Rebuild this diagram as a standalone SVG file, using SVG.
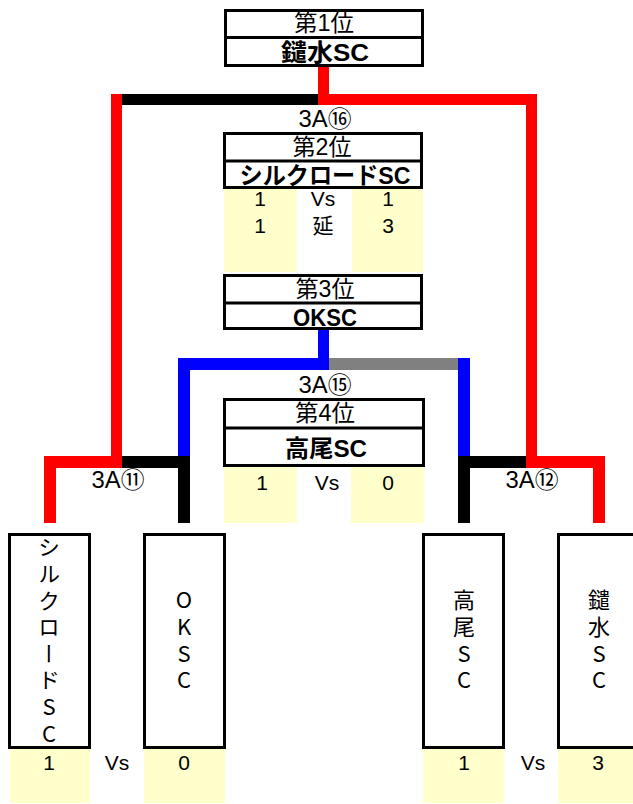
<svg xmlns="http://www.w3.org/2000/svg" width="633" height="804" viewBox="0 0 633 804">
<style>
text{font-family:"Liberation Sans","Noto Sans CJK JP",sans-serif;fill:#000;text-anchor:middle;dominant-baseline:central}
.h{font-size:23px}
.b{font-size:24px;font-weight:bold}
.s{font-size:21px}
.lab{font-size:23px}
.box{fill:#fff;stroke:#000;stroke-width:3}
.div{stroke:#000;stroke-width:3}
.y{fill:#FFFFCC}
.vt{font-family:"Noto Sans CJK JP",sans-serif;font-size:22px;writing-mode:vertical-rl;text-orientation:upright;text-anchor:start;letter-spacing:4.6px}
.r{fill:#FF0000}.k{fill:#000}.bl{fill:#0000FF}.g{fill:#808080}
</style>
<rect width="633" height="804" fill="#fff"/>
<g id="connectors">
<rect class="r" x="318" y="67" width="11" height="38"/>
<rect class="k" x="122" y="94" width="196" height="11"/>
<rect class="r" x="318" y="94" width="219" height="11"/>
<rect class="r" x="111" y="94" width="11" height="374"/>
<rect class="r" x="526" y="94" width="11" height="374"/>
<rect class="r" x="44" y="456" width="78" height="12"/>
<rect class="r" x="44" y="456" width="12" height="67"/>
<rect class="k" x="122" y="456" width="68" height="12"/>
<rect class="k" x="178" y="456" width="12" height="67"/>
<rect class="bl" x="178" y="358" width="12" height="98"/>
<rect class="bl" x="178" y="358" width="151" height="12"/>
<rect class="bl" x="318" y="330" width="11" height="40"/>
<rect class="g" x="329" y="358" width="129" height="12"/>
<rect class="bl" x="458" y="358" width="12" height="98"/>
<rect class="k" x="458" y="456" width="68" height="12"/>
<rect class="k" x="458" y="456" width="12" height="67"/>
<rect class="r" x="526" y="456" width="79" height="12"/>
<rect class="r" x="593" y="456" width="12" height="67"/>
</g>
<g id="labels">
<text class="lab" x="325" y="119" textLength="53" lengthAdjust="spacingAndGlyphs">3A⑯</text>
<text class="lab" x="325" y="385" textLength="53" lengthAdjust="spacingAndGlyphs">3A⑮</text>
<text class="lab" x="118" y="480" textLength="53" lengthAdjust="spacingAndGlyphs">3A⑪</text>
<text class="lab" x="532" y="480" textLength="53" lengthAdjust="spacingAndGlyphs">3A⑫</text>
</g>
<g id="rank1">
<rect class="box" x="225.5" y="10.5" width="197" height="55"/>
<line class="div" x1="225" y1="37.5" x2="423" y2="37.5"/>
<text class="h" x="324" y="23" textLength="60" lengthAdjust="spacingAndGlyphs">第1位</text>
<text class="b" x="325" y="52" textLength="88" lengthAdjust="spacingAndGlyphs">鑓水SC</text>
</g>
<g id="rank2">
<rect class="y" x="224" y="189" width="73" height="83"/>
<rect class="y" x="352" y="189" width="71" height="83"/>
<rect class="box" x="224.5" y="133.5" width="197" height="54"/>
<line class="div" x1="224" y1="161" x2="422" y2="161"/>
<text class="h" x="322" y="147" textLength="59" lengthAdjust="spacingAndGlyphs">第2位</text>
<text class="b" x="325" y="175" textLength="171" lengthAdjust="spacingAndGlyphs">シルクロードSC</text>
<text class="s" x="260" y="198">1</text>
<text class="s" x="323" y="198">Vs</text>
<text class="s" x="388" y="198">1</text>
<text class="s" x="260" y="225">1</text>
<text class="s" x="323" y="225">延</text>
<text class="s" x="388" y="225">3</text>
</g>
<g id="rank3">
<rect class="box" x="224.5" y="275.5" width="197" height="53"/>
<line class="div" x1="224" y1="303" x2="422" y2="303"/>
<text class="h" x="325" y="289" textLength="59" lengthAdjust="spacingAndGlyphs">第3位</text>
<text class="b" x="325" y="317" textLength="64" lengthAdjust="spacingAndGlyphs">OKSC</text>
</g>
<g id="rank4">
<rect class="y" x="224" y="467" width="73" height="56"/>
<rect class="y" x="351" y="467" width="73" height="56"/>
<rect class="box" x="224.5" y="399.5" width="199" height="66"/>
<line class="div" x1="224" y1="428" x2="424" y2="428"/>
<text class="h" x="325" y="413" textLength="60" lengthAdjust="spacingAndGlyphs">第4位</text>
<text class="b" x="326" y="448" textLength="82" lengthAdjust="spacingAndGlyphs">高尾SC</text>
<text class="s" x="262" y="482">1</text>
<text class="s" x="327" y="482">Vs</text>
<text class="s" x="388" y="482">0</text>
</g>
<g id="team-silkroad">
<rect class="y" x="10" y="748" width="80" height="55"/>
<rect class="box" x="9.5" y="534.5" width="80" height="213"/>
<text class="vt" x="49" y="536">シルクロードSC</text>
<text class="s" x="49" y="762">1</text>
</g>
<g id="team-oksc">
<rect class="y" x="144" y="748" width="81" height="55"/>
<rect class="box" x="144.5" y="534.5" width="80" height="213"/>
<text class="vt" x="184" y="589">OKSC</text>
<text class="s" x="184" y="762">0</text>
</g>
<text class="s" x="117" y="762">Vs</text>
<g id="team-takao">
<rect class="y" x="423" y="748" width="81" height="55"/>
<rect class="box" x="423.5" y="534.5" width="80" height="213"/>
<text class="vt" x="464" y="589">高尾SC</text>
<text class="s" x="464" y="762">1</text>
</g>
<text class="s" x="533" y="762">Vs</text>
<g id="team-yarimizu">
<rect class="y" x="558" y="748" width="80" height="55"/>
<rect class="box" x="558.5" y="534.5" width="84" height="213"/>
<text class="vt" x="599" y="589">鑓水SC</text>
<text class="s" x="598" y="762">3</text>
</g>
</svg>
